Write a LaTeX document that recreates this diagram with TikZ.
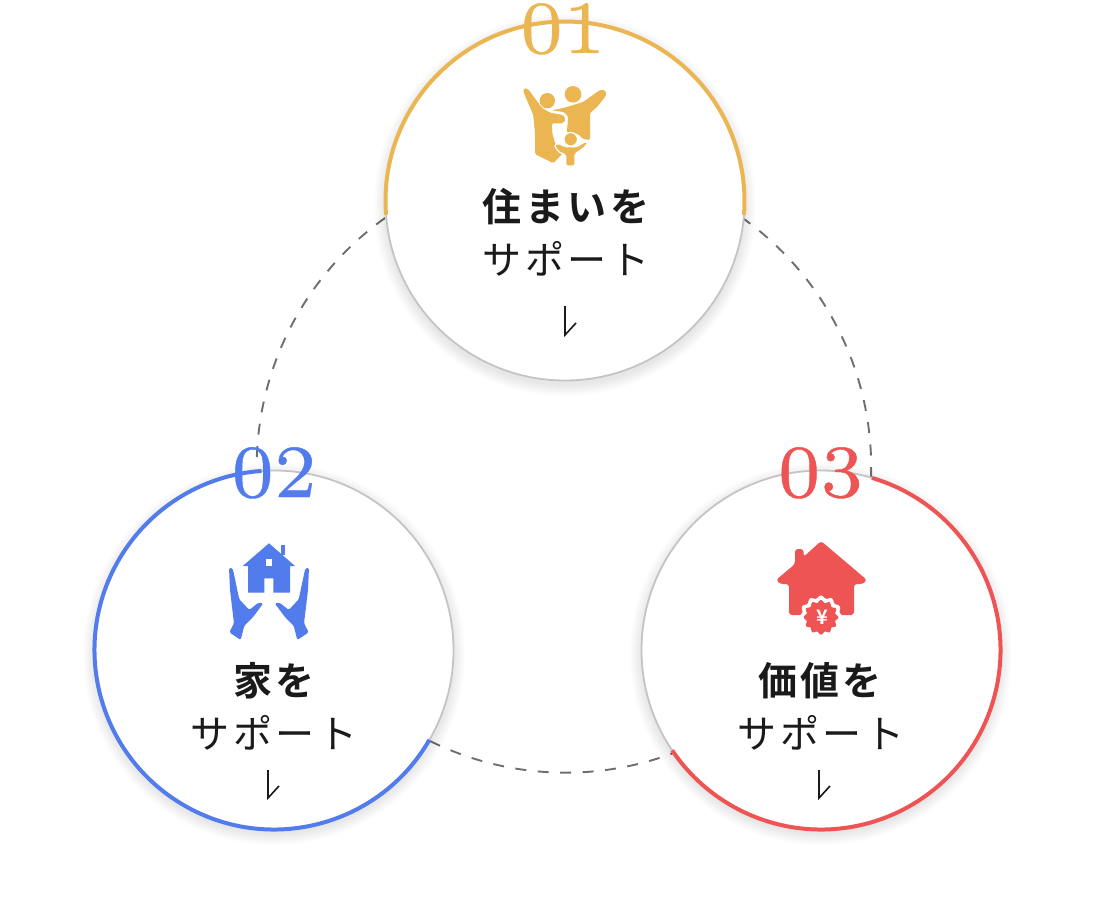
\documentclass[tikz,border=0pt]{standalone}
\usepackage{fontspec}
\usepackage{xcolor}
\newfontfamily\jpfont[LetterSpace=9]{Noto Sans CJK JP}
\newfontfamily\jpboldfont[LetterSpace=9]{Noto Sans CJK JP Bold}
\newfontfamily\numfont[OpticalSize=7,FakeBold=0.5]{Latin Modern Roman}
\definecolor{homeyellow}{HTML}{EBB552}
\definecolor{homeblue}{HTML}{527BEC}
\definecolor{homered}{HTML}{EE5454}
\definecolor{inkblack}{HTML}{1A1A1A}
\definecolor{ringgray}{HTML}{C4C4C4}
\definecolor{linkgray}{HTML}{6E6E6E}
\begin{document}
\begin{tikzpicture}[x=1pt,y=-1pt,
disc/.style={circle, fill=white, minimum size=360pt, inner sep=0pt},
ringback/.style={ringgray, line width=1.8pt},
ringfront/.style={line width=4pt},
linkarc/.style={linkgray, line width=1.9pt, dash pattern=on 11pt off 11.5pt},
number/.style={anchor=base, inner sep=0pt, font=\numfont\fontsize{75}{75}\selectfont},
headline/.style={inner sep=0pt, text=inkblack, font=\jpboldfont\fontsize{39}{39}\selectfont},
subline/.style={inner sep=0pt, text=inkblack, font=\jpfont\fontsize{39}{39}\selectfont},
pointer/.style={inkblack, line width=1.6pt, line join=miter},
icon/.style={rounded corners=1.5pt, draw=none}]
\useasboundingbox (0,0) rectangle (1100,900);
\coordinate (linkA) at (385,218);
\coordinate (linkB) at (430,741);
\coordinate (linkC) at (871,478);
\draw[linkarc] (linkA) arc[start angle=234.5, end angle=180, radius=306];
\draw[linkarc] (linkB) arc[start angle=116.3, end angle=69.6, radius=306];
\draw[linkarc] (linkC) arc[start angle=2, end angle=-54.5, radius=306];
\foreach \cx/\cy in {565/201, 274/650, 821/650}
  \foreach \r in {1,...,12}
    \fill[black, opacity=0.006] (\cx,\cy+4) circle[radius=179+\r];
\node[disc] (home) at (565,201) {};
\node[disc] (house) at (274,650) {};
\node[disc] (value) at (821,650) {};
\draw[ringback] (home.center) circle[radius=179.5];
\draw[ringback] (house.center) circle[radius=179.5];
\draw[ringback] (value.center) circle[radius=179.5];
\draw[ringfront, homeyellow] (home.center) ++(175.6:179.5) arc[start angle=175.6, end angle=364.4, radius=179.5];
\draw[ringfront, homeblue] (house.center) ++(30:179.5) arc[start angle=30, end angle=266, radius=179.5];
\draw[ringfront, homered] (value.center) ++(286.5:179.5) arc[start angle=286.5, end angle=506, radius=179.5];
\node[number, text=homeyellow] (numA) at (563,53) {01};
\node[number, text=homeblue] (numB) at (274,497) {02};
\node[number, text=homered] (numC) at (820.5,497) {03};
\fill[homeyellow] (547.3,100.7) circle[radius=7.7];
\fill[homeyellow] (573,94.3) circle[radius=8.3];
\fill[homeyellow, icon] (524,88) -- (528,89) -- (542,108) -- (550,112.7) -- (563,115) -- (565.7,119.3) -- (563,123.3) -- (551.7,123.3) -- (552.3,133.3) -- (555,143.3) -- (563.3,152.7) -- (553.3,163.3) -- (535,154) -- (535,133.3) -- (533.3,115) -- (523.3,91.7) -- cycle;
\fill[homeyellow, icon] (605,90) -- (606.5,95) -- (597,107) -- (590,113) -- (590,140) -- (583,139) -- (578,134) -- (568,132) -- (566.7,133) -- (568.3,117) -- (564,112) -- (552,110.5) -- (567,107) -- (583,102) -- (600,90) -- cycle;
\filldraw[homeyellow, icon, draw=white, line width=1.2pt] (554.3,145) -- (558.3,143.3) -- (565,146.7) -- (576.7,146.7) -- (585,141.7) -- (588.3,142.7) -- (583.3,148.3) -- (575,154) -- (575,166) -- (565.7,166) -- (565.7,155) -- (558.3,151.7) -- cycle;
\filldraw[homeyellow, draw=white, line width=1.2pt] (570.7,139.3) circle[radius=6.8];
\fill[homeblue] (269,543.3) -- (295,566) -- (290,566) -- (290,592.7) -- (273.3,592.7) -- (273.3,578.3) -- (264.3,578.3) -- (264.3,592.7) -- (248,592.7) -- (248,566) -- (242.7,566) -- cycle;
\fill[homeblue] (281,545) rectangle (285,555);
\fill[white] (265.7,559) rectangle (271.7,565.7);
\foreach \side in {1,-1}
  \fill[homeblue, icon, xshift=269pt, xscale=\side, xshift=-269pt] (229,567.7) -- (232.7,568.3) -- (239.3,599.3) -- (249.3,610) -- (258.3,602.7) -- (263.3,603.3) -- (253.3,616.7) -- (244.3,625.7) -- (240.7,640) -- (229.3,632.3) -- (234,623.3) -- (230,590) -- cycle;
\fill[homered, rounded corners=3pt] (821,541) -- (867,580) -- (863,584) -- (854,584) -- (854,615) -- (789,615) -- (789,584) -- (780,584) -- (776,580) -- (795,564) -- (795,549) -- (803.5,549) -- (803.5,557) -- cycle;
\fill[white] plot[domain=0:360, samples=120, smooth cycle] ({821+(20.5+1.3*cos(12*\x))*cos(\x)}, {617.3+(20.5+1.3*cos(12*\x))*sin(\x)});
\fill[homered] plot[domain=0:360, samples=120, smooth cycle] ({821+(16+1.3*cos(12*\x))*cos(\x)}, {617.3+(16+1.3*cos(12*\x))*sin(\x)});
\node[inner sep=0pt, text=white, font=\jpboldfont\fontsize{20}{20}\selectfont] (yen) at (822,617) {¥};
\node[headline] (headA) at (566,207) {住まいを};
\node[subline] (subA) at (566,259) {サポート};
\node[headline] (headB) at (274,681) {家を};
\node[subline] (subB) at (274,733) {サポート};
\node[headline] (headC) at (820,681) {価値を};
\node[subline] (subC) at (821,733) {サポート};
\draw[pointer] (565,306) -- (565,335) -- (576,323);
\draw[pointer] (268,770) -- (268,798) -- (279,786);
\draw[pointer] (819,770) -- (819,798) -- (830,786);
\end{tikzpicture}
\end{document}
